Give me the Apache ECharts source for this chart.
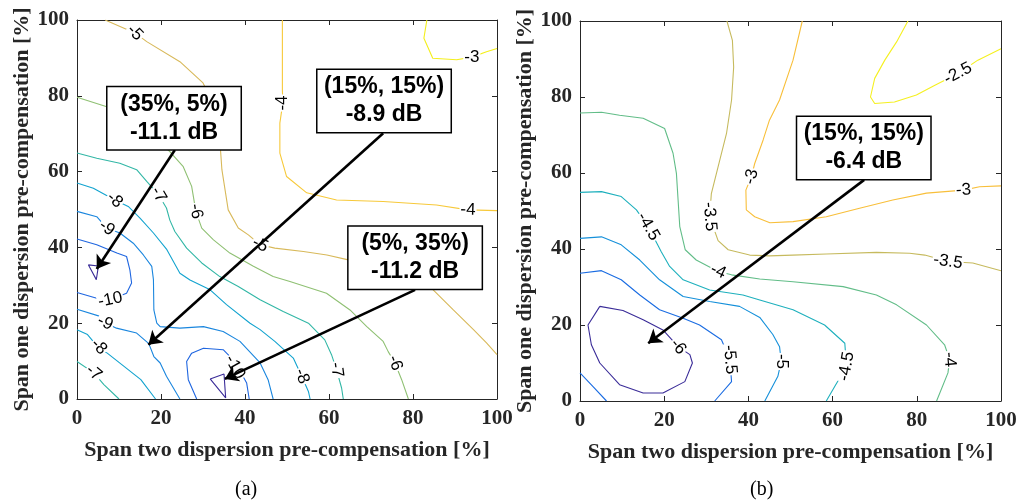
<!DOCTYPE html>
<html><head><meta charset="utf-8">
<script src="https://cdn.jsdelivr.net/npm/echarts@6/dist/echarts.min.js"></script>
<style>html,body{margin:0;padding:0;background:#fff}#c{width:1021px;height:504px}</style>
</head><body><div id="c"></div>
<script>
// ---------- Panel (a) contour lines [x, y] ----------
const a_m3 = [[83.3,100],[82.6,95.2],[84.7,89.9],[90.4,89.5],[94.0,90.2],[97.5,91.6],[100,92.5]];
const a_m4 = [[48.9,100],[48.9,81.6],[49.0,78.1],[48.3,72.8],[48.3,64.9],[49.9,58.7],[54.7,54.4],[61.8,52.5],[72.9,52.1],[85.6,51.2],[93.1,49.9],[100,49.7]];
const a_m5 = [[6.7,100],[13.8,96.6],[16.6,94.3],[24.5,89.0],[30.0,83.4],[33.3,76.3],[34.0,68.4],[34.5,60.5],[36.0,49.9],[38.4,45.1],[40.8,43.3],[43.6,40.7],[47.1,39.8],[53.9,38.9],[59.5,38.0],[64.6,36.7],[75,33],[84.8,28.8],[89.6,23.5],[94.4,18.3],[97.5,14.8],[100,11.7]];
const a_m6 = [[0,79.6],[7.1,77.1],[14,72.5],[19,68.5],[22.1,65.3],[25.3,61.3],[27.3,56.1],[28.3,49.5],[29.7,45.1],[32.5,42.0],[36.4,38.5],[42.0,35.0],[46.7,32.3],[50.7,31.0],[59.4,27.9],[65.0,23.5],[69.0,19.1],[72.9,15.2],[74.1,12.5],[75.7,9.5],[77.3,5.1],[78.9,0]];
const a_m7 = [[0,64.9],[4.7,63.5],[10.2,62.2],[14.2,60.5],[16.6,57.4],[19.4,53.9],[21.3,50.4],[22.1,47.2],[23.3,44.2],[26.1,39.8],[29.7,35.9],[34.0,32.3],[38.4,29.7],[43.6,26.2],[49.1,23.1],[55.1,20.0],[59.0,15.6],[60.6,11.7],[61.8,7.7],[63.0,2.9],[63.4,0]];
const a_m7b = [[0,9.9],[4.0,6.9],[6.4,3.8],[10.0,0]];
const a_m8 = [[0,57.0],[3.9,55.6],[9.0,52.5],[12.2,50.8],[15.0,47.7],[18.2,43.8],[21.4,39.4],[24.5,33.2],[26.9,31.4],[31.7,28.8],[35.6,24.9],[41.2,20.0],[43.6,18.3],[47.1,15.2],[51.5,10.8],[53.5,6.0],[55.1,2.0],[55.5,0]];
const a_m8b = [[0,18.3],[2.5,17.0],[5.2,13.4],[7.2,12.1],[11.2,8.6],[15.2,5.1],[18.7,0]];
const a_m9 = [[0,49.5],[4.7,48.1],[7.1,45.1],[10.2,43.8],[13.4,41.1],[15.8,38.0],[17.8,35.0],[18.2,31.5],[18.3,23.5],[19.0,20.0],[19.8,19.1],[24.5,18.7],[30.1,19.1],[34.8,17.8],[38.8,15.2],[43.6,9.5],[45.5,5.1],[46.7,0]];
const a_m9b = [[0,23.7],[5.5,21.8],[6.7,20.1],[9.4,18.7],[14.2,17.4],[17.1,14.6],[18.3,11.2],[19.8,9.5],[21.3,6.0],[24.5,0]];
const a_m10 = [[0,42.2],[4.7,40.7],[9.5,38.5],[11.8,37.6],[12.6,34.0],[13.0,30.6],[11.8,27.9],[7.9,26.2],[4.7,26.6],[0,28.1]];
const a_m10b = [[28.5,0],[26.5,5.1],[26.1,9.9],[27.3,12.1],[30.1,13.4],[34.8,13.0],[37.5,10.0],[40.4,4.2],[41.0,0]];
const a_m11 = [[2.7,35.4],[5.1,35.1],[4.6,31.5],[2.7,35.4]];
const a_m11b = [[31.7,5.3],[35.0,6.6],[35.4,0.3],[31.7,5.3]];

// ---------- Panel (b) contour lines ----------
const b_m25 = [[77.9,100],[75.2,94.5],[72.4,89.7],[70.0,84.9],[69.0,80.0],[70.0,78.3],[74.7,78.7],[79.9,80.5],[84.3,83.1],[89.8,86.2],[94.5,89.7],[100,92.7]];
const b_m3 = [[52.8,100],[50.6,89.7],[47.4,79.2],[45.0,73.9],[43.5,68.7],[41.5,62.5],[40.7,59.0],[39.4,55.5],[39.5,50.3],[41.5,48.5],[45.1,46.9],[50.6,47.2],[58.5,48.5],[66.4,50.7],[74.3,52.9],[82.3,54.7],[91.1,55.5],[94.9,56.4],[100,56.6]];
const b_m35 = [[34.9,100],[36.2,94.9],[36.5,87.9],[36.0,79.2],[34.8,70.4],[33.2,63.4],[31.2,54.6],[30.8,48.5],[32.8,42.2],[35.2,39.8],[40.3,38.4],[45,38.2],[50.5,38.4],[58.5,38.7],[70.4,39.1],[78.3,38.9],[81.9,38.4],[87.4,36.7],[93.3,36.3],[100,34.3]];
const b_m4 = [[0,75.8],[5.1,76.0],[9.4,75.2],[15.0,74.4],[20.1,71.7],[22.1,65.2],[22.9,59.9],[23.3,52.9],[23.7,45.9],[25.0,39.8],[27.6,37.1],[32.8,34.1],[36.0,33.2],[42.7,32.1],[50.6,31.4],[62.5,30.1],[70.4,27.9],[75.2,25.3],[82.3,20.0],[86.6,14.8],[87.8,10.9],[87.4,7.4],[84.7,0]];
const b_m45 = [[0,54.9],[5.1,55.1],[9.8,53.8],[13.4,50.3],[16.2,45.9],[19.3,39.3],[21.3,35.4],[24.5,31.9],[30.8,29.2],[38.7,27.9],[42.7,26.6],[50.6,24.0],[58.1,20.0],[62.9,15.2],[63.3,9.1],[60.5,3.8],[58.5,0]];
const b_m5 = [[0,42.8],[5.1,43.2],[9.8,41.1],[14.2,37.1],[18.9,31.9],[24.5,27.5],[30.8,26.2],[37.9,24.9],[42.7,22.0],[45.8,17.5],[47.4,14.3],[47.8,10.4],[47.0,6.5],[43.9,0]];
const b_m55 = [[0,33.6],[5.1,34.3],[9.8,31.9],[14.2,27.9],[18.9,24.0],[24.5,21.8],[28.4,20.0],[33.6,16.1],[35.6,10.9],[36.0,5.1],[32.0,0]];
const b_m55b = [[0,7.4],[3.1,3.8],[6.3,0]];
const b_m6 = [[4.7,24.9],[1.9,20.0],[2.7,14.8],[4.7,10.0],[9.4,4.3],[15.0,2.1],[19.7,2.1],[24.9,5.1],[26.7,10.0],[26.1,12.2],[23.3,14.3],[19.7,18.7],[15.0,21.4],[10.2,23.8],[4.7,24.9]];

// ---------- contour labels [x, y, text, angle] ----------
const labelsA = [
  [13.8,96.6,'-5',-45],[49.0,78.1,'-4',90],[94.0,90.2,'-3',0],[93.1,49.9,'-4',-2],
  [19.4,53.9,'-7',-60],[28.3,49.5,'-6',-80],[9.0,52.5,'-8',-40],[7.1,45.1,'-9',-35],
  [7.9,26.2,'-10',12],[6.7,20.1,'-9',-25],[5.2,13.8,'-8',-45],[4.0,6.9,'-7',-40],
  [43.6,40.7,'-5',-25],[37.6,8.4,'-10',-60],[53.5,6.0,'-8',-70],[61.8,7.7,'-7',-82],[75.7,9.5,'-6',-70]
];
const labelsB = [
  [16.2,45.9,'-4.5',-60],[30.8,48.5,'-3.5',-85],[40.7,59.0,'-3',75],[89.8,86.2,'-2.5',28],
  [91.1,55.5,'-3',4],[32.8,34.1,'-4',-25],[87.4,36.7,'-3.5',-8],[23.3,14.3,'-6',-50],
  [35.6,10.9,'-5.5',-85],[47.8,10.4,'-5',-90],[63.3,9.1,'-4.5',80],[87.8,10.9,'-4',-85]
];

// ---------- annotations: box centre, arrow start, arrow tip, text ----------
const notesA = [
  {box:[23.1,74.1], from:[23.3,65.7], to:[4.7,34.3], text:'(35%, 5%)\n-11.1 dB'},
  {box:[73.1,78.6], from:[72.9,70.1], to:[17.0,14.3], text:'(15%, 15%)\n-8.9 dB'},
  {box:[80.5,37.3], from:[80.5,28.8], to:[35.2,5.3], text:'(5%, 35%)\n-11.2 dB'}
];
const notesB = [
  {box:[67.4,66.6], from:[67.5,58.2], to:[16.2,15.2], text:'(15%, 15%)\n-6.4 dB'}
];

const linesA = [[-3,a_m3],[-4,a_m4],[-5,a_m5],[-6,a_m6],[-7,a_m7],[-7,a_m7b],[-8,a_m8],[-8,a_m8b],[-9,a_m9],[-9,a_m9b],[-10,a_m10],[-10,a_m10b],[-11,a_m11],[-11,a_m11b]];
const linesB = [[-2.5,b_m25],[-3,b_m3],[-3.5,b_m35],[-4,b_m4],[-4.5,b_m45],[-5,b_m5],[-5.5,b_m55],[-5.5,b_m55b],[-6,b_m6]];

const colA = {'-11':'#3a2c98','-10':'#1f66e0','-9':'#1a86de','-8':'#12a3cf','-7':'#32b7a6','-6':'#8fc073','-5':'#d8b95a','-4':'#f7c93a','-3':'#f4ef1c'};
const colB = {'-6':'#3a2c98','-5.5':'#1a6ce2','-5':'#1590da','-4.5':'#1eb0bd','-4':'#62bd88','-3.5':'#c6ba5e','-3':'#f8bf3a','-2.5':'#f5f020'};

const axisColor = '#262626';
const tickFont = {fontFamily:'Liberation Serif', fontWeight:'bold', fontSize:21, color:axisColor};
const nameFont = {fontFamily:'Liberation Serif', fontWeight:'bold', fontSize:22, color:axisColor};
const cLabel = {show:true, position:'inside', fontFamily:'Liberation Sans', fontSize:17, color:'#000', backgroundColor:'#fff', padding:[0,1], opacity:1};
const boxLabel = {show:true, position:'inside', fontFamily:'Liberation Sans', fontWeight:'bold', fontSize:23, lineHeight:28,
  color:'#000', backgroundColor:'#fff', borderColor:'#000', borderWidth:1.5, padding:[3,4], width:125, align:'center', opacity:1};

function mkX(gi, pos, named) {
  return {
    type:'value', gridIndex:gi, position:pos, min:0, max:100, interval:20,
    axisLine:{show:true, onZero:false, lineStyle:{color:axisColor, width:1}},
    axisTick:{show:true, inside:true, length:5, lineStyle:{color:axisColor}},
    axisLabel:{show:named, margin:9, ...tickFont},
    splitLine:{show:false},
    name: named ? 'Span two dispersion pre-compensation [%]' : '',
    nameLocation:'middle', nameGap:40, nameTextStyle:nameFont
  };
}
function mkY(gi, pos, named) {
  return {
    type:'value', gridIndex:gi, position:pos, min:0, max:100, interval:20,
    axisLine:{show:true, onZero:false, lineStyle:{color:axisColor, width:1}},
    axisTick:{show:true, inside:true, length:5, lineStyle:{color:axisColor}},
    axisLabel:{show:named, margin:8, ...tickFont},
    splitLine:{show:false},
    name: named ? 'Span one dispersion pre-compensation [%]' : '',
    nameLocation:'middle', nameGap:43, nameTextStyle:nameFont
  };
}

const series = [];
function addPanel(gi, lines, cols, labels, notes) {
  const xi = gi*2, yi = gi*2;
  lines.forEach(([lv, pts]) => {
    series.push({type:'line', xAxisIndex:xi, yAxisIndex:yi, data:pts, symbol:'none', showSymbol:false,
      lineStyle:{color:cols[String(lv)], width:1.1}, z:2, silent:true, animation:false, smooth:false});
  });
  series.push({type:'scatter', xAxisIndex:xi, yAxisIndex:yi, symbolSize:1, itemStyle:{color:'rgba(0,0,0,0)', opacity:1}, z:3, silent:true,
    data: labels.map(l => ({value:[l[0], l[1]], label:Object.assign({}, cLabel, {rotate:l[3], formatter:l[2]})})),
    label:cLabel
  });
  notes.forEach(n => {
    series.push({type:'line', xAxisIndex:xi, yAxisIndex:yi, data:[], z:4, silent:true, animation:false,
      markLine:{silent:true, animation:false, symbol:['none','arrow'], symbolSize:13,
        lineStyle:{color:'#000', width:2.6, type:'solid', opacity:1}, label:{show:false},
        emphasis:{disabled:true},
        data:[[{coord:n.from}, {coord:n.to}]]}});
  });
  series.push({type:'scatter', xAxisIndex:xi, yAxisIndex:yi, symbolSize:1, itemStyle:{color:'rgba(0,0,0,0)', opacity:1}, z:5, silent:true,
    data: notes.map(n => ({value:n.box, label:Object.assign({}, boxLabel, {formatter:n.text})})),
    label:boxLabel
  });
}
addPanel(0, linesA, colA, labelsA, notesA);
addPanel(1, linesB, colB, labelsB, notesB);

const chart = echarts.init(document.getElementById('c'), null, {renderer:'canvas'});
chart.setOption({
  backgroundColor:'#fff',
  animation:false,
  grid:[
    {left:77, top:20, width:420, height:379},
    {left:580, top:21, width:421, height:380}
  ],
  xAxis:[mkX(0,'bottom',true), mkX(0,'top',false), mkX(1,'bottom',true), mkX(1,'top',false)],
  yAxis:[mkY(0,'left',true), mkY(0,'right',false), mkY(1,'left',true), mkY(1,'right',false)],
  title:[
    {text:'(a)', left:235, top:480, padding:0, textStyle:{fontFamily:'Liberation Serif', fontWeight:'normal', fontSize:20, color:'#000'}},
    {text:'(b)', left:750, top:480, padding:0, textStyle:{fontFamily:'Liberation Serif', fontWeight:'normal', fontSize:20, color:'#000'}}
  ],
  series: series
});
</script>
</body></html>
